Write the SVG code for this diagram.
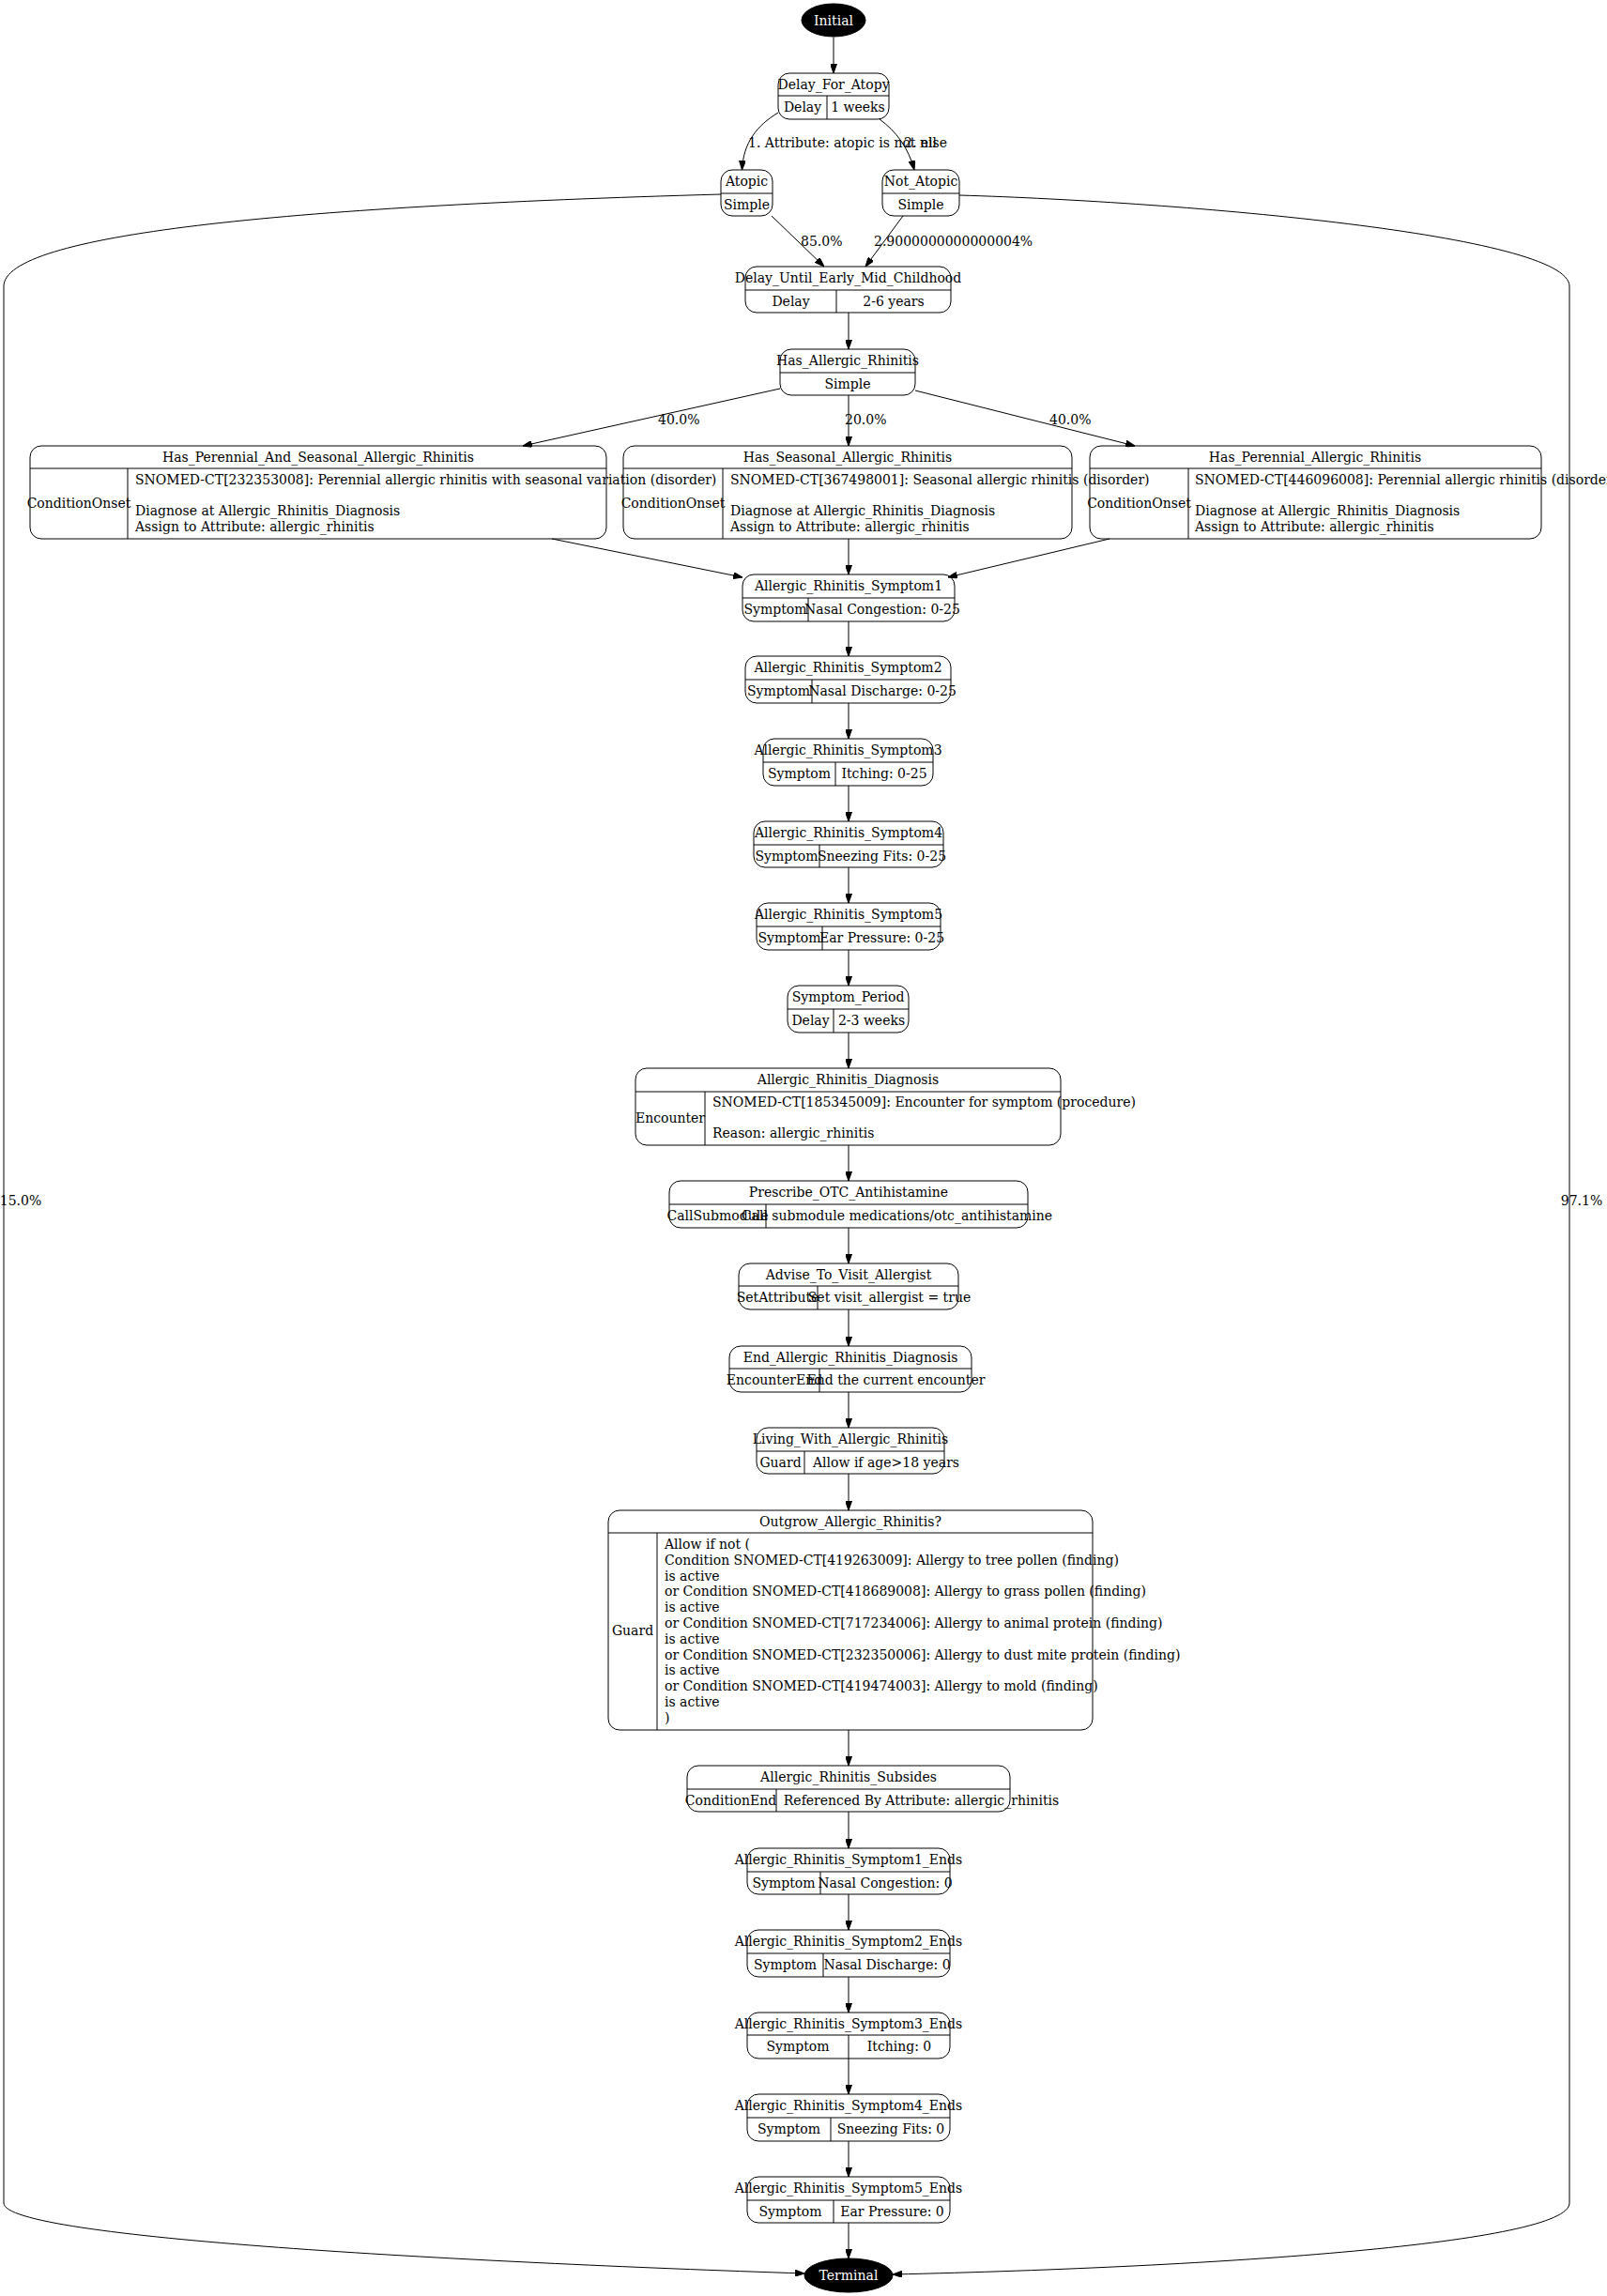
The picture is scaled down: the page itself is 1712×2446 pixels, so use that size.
<svg xmlns="http://www.w3.org/2000/svg" width="1712" height="2446" viewBox="0 0 1712 2446">
<defs>
<marker id="arr" markerUnits="userSpaceOnUse" markerWidth="10" markerHeight="7" refX="10" refY="3.5" orient="auto">
<path d="M0,0 L10,3.5 L0,7 z" fill="#000" stroke="#000" stroke-width="1"/>
</marker>
</defs>
<style>
text{font-family:"DejaVu Serif","Liberation Serif",serif;font-size:14px;fill:#000}
.m{text-anchor:middle}
.node rect,.node path{fill:none;stroke:#000;stroke-width:1}
.edges path{fill:none;stroke:#000;stroke-width:1;marker-end:url(#arr)}
.w{fill:#fff}
</style>
<rect x="0" y="0" width="1712" height="2446" fill="#fff"/>

<g id="edges" class="edges">
<path d="M888,39.5 L888,78"/>
<path d="M829,120 C806,134 792,152 790.5,181"/>
<path d="M937,127 C955,140 968,158 974,181"/>
<path d="M822,230 L878,284"/>
<path d="M962,230 L922,284"/>
<path d="M904,333 L904,372"/>
<path d="M831,414 L557,475"/>
<path d="M904,421 L904,475"/>
<path d="M975,416 L1209,475"/>
<path d="M588,574 L791,615"/>
<path d="M904,574 L904,612"/>
<path d="M1182,574 L1010,615"/>
<path d="M904,662 L904,699"/>
<path d="M904,749 L904,787"/>
<path d="M904,837 L904,875"/>
<path d="M904,924 L904,962"/>
<path d="M904,1012 L904,1050"/>
<path d="M904,1100 L904,1138"/>
<path d="M904,1220 L904,1258"/>
<path d="M904,1308 L904,1346"/>
<path d="M904,1395 L904,1434"/>
<path d="M904,1483 L904,1521"/>
<path d="M904,1570 L904,1609"/>
<path d="M904,1843 L904,1881"/>
<path d="M904,1930 L904,1969"/>
<path d="M904,2018 L904,2056"/>
<path d="M904,2106 L904,2144"/>
<path d="M904,2193 L904,2231"/>
<path d="M904,2281 L904,2319"/>
<path d="M904,2368 L904,2406"/>
<path d="M768,207 C300,220 4,250 4,305 L4,2347 C4,2385 500,2410 857,2422"/>
<path d="M1022,208 C1260,215 1672,250 1672,305 L1672,2347 C1672,2390 1300,2415 951,2423"/>
<text x="797" y="157">1. Attribute: atopic is not nil</text>
<text x="963" y="157">2. else</text>
<text x="853" y="262">85.0%</text>
<text x="931" y="262">2.9000000000000004%</text>
<text x="701" y="452">40.0%</text>
<text x="900" y="452">20.0%</text>
<text x="1118" y="452">40.0%</text>
<text x="22" y="1284" class="m">15.0%</text>
<text x="1685" y="1284" class="m">97.1%</text>
</g>

<g id="Initial">
<ellipse cx="888" cy="21.5" rx="34" ry="17.5" fill="#000" stroke="#000"/>
<text x="888" y="26.5" class="m w">Initial</text>
</g>

<g id="Delay_For_Atopy" class="node">
<rect x="829" y="78" width="118" height="49" rx="12"/>
<path d="M829,102 H947 M881,102 V127"/>
<text x="888" y="95" class="m">Delay_For_Atopy</text>
<text x="855" y="119" class="m">Delay</text>
<text x="914" y="119" class="m">1 weeks</text>
</g>

<g id="Atopic" class="node">
<rect x="768" y="181" width="55" height="49" rx="12"/>
<path d="M768,206 H823"/>
<text x="795.5" y="198" class="m">Atopic</text>
<text x="795.5" y="223" class="m">Simple</text>
</g>

<g id="Not_Atopic" class="node">
<rect x="940" y="181" width="82" height="49" rx="12"/>
<path d="M940,206 H1022"/>
<text x="981" y="198" class="m">Not_Atopic</text>
<text x="981" y="223" class="m">Simple</text>
</g>

<g id="Delay_Until_Early_Mid_Childhood" class="node">
<rect x="794" y="284" width="219" height="49" rx="12"/>
<path d="M794,309 H1013 M891,309 V333"/>
<text x="903.5" y="301" class="m">Delay_Until_Early_Mid_Childhood</text>
<text x="842.5" y="326" class="m">Delay</text>
<text x="952" y="326" class="m">2-6 years</text>
</g>

<g id="Has_Allergic_Rhinitis" class="node">
<rect x="831" y="372" width="144" height="49" rx="12"/>
<path d="M831,397 H975"/>
<text x="903" y="389" class="m">Has_Allergic_Rhinitis</text>
<text x="903" y="414" class="m">Simple</text>
</g>

<g id="Has_Perennial_And_Seasonal_Allergic_Rhinitis" class="node">
<rect x="32" y="475" width="614" height="99" rx="12"/>
<path d="M32,499 H646 M136,499 V574"/>
<text x="339" y="492" class="m">Has_Perennial_And_Seasonal_Allergic_Rhinitis</text>
<text x="84" y="541" class="m">ConditionOnset</text>
<text x="144" y="516">SNOMED-CT[232353008]: Perennial allergic rhinitis with seasonal variation (disorder)</text>
<text x="144" y="549">Diagnose at Allergic_Rhinitis_Diagnosis</text>
<text x="144" y="566">Assign to Attribute: allergic_rhinitis</text>
</g>

<g id="Has_Seasonal_Allergic_Rhinitis" class="node">
<rect x="664" y="475" width="478" height="99" rx="12"/>
<path d="M664,499 H1142 M770,499 V574"/>
<text x="903" y="492" class="m">Has_Seasonal_Allergic_Rhinitis</text>
<text x="717" y="541" class="m">ConditionOnset</text>
<text x="778" y="516">SNOMED-CT[367498001]: Seasonal allergic rhinitis (disorder)</text>
<text x="778" y="549">Diagnose at Allergic_Rhinitis_Diagnosis</text>
<text x="778" y="566">Assign to Attribute: allergic_rhinitis</text>
</g>

<g id="Has_Perennial_Allergic_Rhinitis" class="node">
<rect x="1161" y="475" width="481" height="99" rx="12"/>
<path d="M1161,499 H1642 M1266,499 V574"/>
<text x="1401" y="492" class="m">Has_Perennial_Allergic_Rhinitis</text>
<text x="1213.5" y="541" class="m">ConditionOnset</text>
<text x="1273" y="516">SNOMED-CT[446096008]: Perennial allergic rhinitis (disorder)</text>
<text x="1273" y="549">Diagnose at Allergic_Rhinitis_Diagnosis</text>
<text x="1273" y="566">Assign to Attribute: allergic_rhinitis</text>
</g>

<g id="Allergic_Rhinitis_Symptom1" class="node">
<rect x="791" y="612" width="226" height="50" rx="12"/>
<path d="M791,637 H1017 M861,637 V662"/>
<text x="904" y="629" class="m">Allergic_Rhinitis_Symptom1</text>
<text x="826" y="654" class="m">Symptom</text>
<text x="940" y="654" class="m">Nasal Congestion: 0-25</text>
</g>

<g id="Allergic_Rhinitis_Symptom2" class="node">
<rect x="794" y="699" width="219" height="50" rx="12"/>
<path d="M794,724 H1013 M865,724 V749"/>
<text x="903.5" y="716" class="m">Allergic_Rhinitis_Symptom2</text>
<text x="829.5" y="741" class="m">Symptom</text>
<text x="940" y="741" class="m">Nasal Discharge: 0-25</text>
</g>

<g id="Allergic_Rhinitis_Symptom3" class="node">
<rect x="813" y="787" width="181" height="50" rx="12"/>
<path d="M813,812 H994 M890,812 V837"/>
<text x="903.5" y="804" class="m">Allergic_Rhinitis_Symptom3</text>
<text x="851.5" y="829" class="m">Symptom</text>
<text x="942" y="829" class="m">Itching: 0-25</text>
</g>

<g id="Allergic_Rhinitis_Symptom4" class="node">
<rect x="803" y="875" width="202" height="49" rx="12"/>
<path d="M803,900 H1005 M873,900 V924"/>
<text x="904" y="892" class="m">Allergic_Rhinitis_Symptom4</text>
<text x="838" y="917" class="m">Symptom</text>
<text x="939.5" y="917" class="m">Sneezing Fits: 0-25</text>
</g>

<g id="Allergic_Rhinitis_Symptom5" class="node">
<rect x="806" y="962" width="196" height="50" rx="12"/>
<path d="M806,987 H1002 M876,987 V1012"/>
<text x="904" y="979" class="m">Allergic_Rhinitis_Symptom5</text>
<text x="841" y="1004" class="m">Symptom</text>
<text x="939.5" y="1004" class="m">Ear Pressure: 0-25</text>
</g>

<g id="Symptom_Period" class="node">
<rect x="839" y="1050" width="129" height="50" rx="12"/>
<path d="M839,1075 H968 M888,1075 V1100"/>
<text x="903.5" y="1067" class="m">Symptom_Period</text>
<text x="863.5" y="1092" class="m">Delay</text>
<text x="928.5" y="1092" class="m">2-3 weeks</text>
</g>

<g id="Allergic_Rhinitis_Diagnosis" class="node">
<rect x="677" y="1138" width="453" height="82" rx="12"/>
<path d="M677,1163 H1130 M751,1163 V1220"/>
<text x="903.5" y="1155" class="m">Allergic_Rhinitis_Diagnosis</text>
<text x="714" y="1196" class="m">Encounter</text>
<text x="759" y="1179">SNOMED-CT[185345009]: Encounter for symptom (procedure)</text>
<text x="759" y="1212">Reason: allergic_rhinitis</text>
</g>

<g id="Prescribe_OTC_Antihistamine" class="node">
<rect x="713" y="1258" width="382" height="50" rx="12"/>
<path d="M713,1283 H1095 M816,1283 V1308"/>
<text x="904" y="1275" class="m">Prescribe_OTC_Antihistamine</text>
<text x="764.5" y="1300" class="m">CallSubmodule</text>
<text x="955.5" y="1300" class="m">Call submodule medications/otc_antihistamine</text>
</g>

<g id="Advise_To_Visit_Allergist" class="node">
<rect x="787" y="1346" width="234" height="49" rx="12"/>
<path d="M787,1370 H1021 M871,1370 V1395"/>
<text x="904" y="1363" class="m">Advise_To_Visit_Allergist</text>
<text x="828.5" y="1387" class="m">SetAttribute</text>
<text x="947.5" y="1387" class="m">Set visit_allergist = true</text>
</g>

<g id="End_Allergic_Rhinitis_Diagnosis" class="node">
<rect x="777" y="1434" width="258" height="49" rx="12"/>
<path d="M777,1458 H1035 M873,1458 V1483"/>
<text x="906" y="1451" class="m">End_Allergic_Rhinitis_Diagnosis</text>
<text x="825" y="1475" class="m">EncounterEnd</text>
<text x="954.5" y="1475" class="m">End the current encounter</text>
</g>

<g id="Living_With_Allergic_Rhinitis" class="node">
<rect x="806" y="1521" width="200" height="49" rx="12"/>
<path d="M806,1546 H1006 M857,1546 V1570"/>
<text x="906" y="1538" class="m">Living_With_Allergic_Rhinitis</text>
<text x="831.5" y="1563" class="m">Guard</text>
<text x="944" y="1563" class="m">Allow if age&gt;18 years</text>
</g>

<g id="Outgrow_Allergic_Rhinitis" class="node">
<rect x="648" y="1609" width="516" height="234" rx="12"/>
<path d="M648,1633 H1164 M700,1633 V1843"/>
<text x="906" y="1626" class="m">Outgrow_Allergic_Rhinitis?</text>
<text x="674" y="1742" class="m">Guard</text>
<text x="708" y="1650">Allow if not (</text>
<text x="708" y="1666.8">Condition SNOMED-CT[419263009]: Allergy to tree pollen (finding)</text>
<text x="708" y="1683.6">is active</text>
<text x="708" y="1700.4">or Condition SNOMED-CT[418689008]: Allergy to grass pollen (finding)</text>
<text x="708" y="1717.2">is active</text>
<text x="708" y="1734">or Condition SNOMED-CT[717234006]: Allergy to animal protein (finding)</text>
<text x="708" y="1750.8">is active</text>
<text x="708" y="1767.6">or Condition SNOMED-CT[232350006]: Allergy to dust mite protein (finding)</text>
<text x="708" y="1784.4">is active</text>
<text x="708" y="1801.2">or Condition SNOMED-CT[419474003]: Allergy to mold (finding)</text>
<text x="708" y="1818">is active</text>
<text x="708" y="1834.8">)</text>
</g>

<g id="Allergic_Rhinitis_Subsides" class="node">
<rect x="732" y="1881" width="344" height="49" rx="12"/>
<path d="M732,1906 H1076 M827,1906 V1930"/>
<text x="904" y="1898" class="m">Allergic_Rhinitis_Subsides</text>
<text x="778.5" y="1923" class="m">ConditionEnd</text>
<text x="981.5" y="1923" class="m">Referenced By Attribute: allergic_rhinitis</text>
</g>

<g id="Allergic_Rhinitis_Symptom1_Ends" class="node">
<rect x="796" y="1969" width="216" height="49" rx="12"/>
<path d="M796,1994 H1012 M874,1994 V2018"/>
<text x="904" y="1986" class="m">Allergic_Rhinitis_Symptom1_Ends</text>
<text x="835" y="2011" class="m">Symptom</text>
<text x="943" y="2011" class="m">Nasal Congestion: 0</text>
</g>

<g id="Allergic_Rhinitis_Symptom2_Ends" class="node">
<rect x="796" y="2056" width="216" height="50" rx="12"/>
<path d="M796,2081 H1012 M877,2081 V2106"/>
<text x="904" y="2073" class="m">Allergic_Rhinitis_Symptom2_Ends</text>
<text x="836.5" y="2098" class="m">Symptom</text>
<text x="945" y="2098" class="m">Nasal Discharge: 0</text>
</g>

<g id="Allergic_Rhinitis_Symptom3_Ends" class="node">
<rect x="796" y="2144" width="216" height="49" rx="12"/>
<path d="M796,2168 H1012 M904,2168 V2193"/>
<text x="904" y="2161" class="m">Allergic_Rhinitis_Symptom3_Ends</text>
<text x="850" y="2185" class="m">Symptom</text>
<text x="958" y="2185" class="m">Itching: 0</text>
</g>

<g id="Allergic_Rhinitis_Symptom4_Ends" class="node">
<rect x="796" y="2231" width="216" height="50" rx="12"/>
<path d="M796,2256 H1012 M885,2256 V2281"/>
<text x="904" y="2248" class="m">Allergic_Rhinitis_Symptom4_Ends</text>
<text x="840.5" y="2273" class="m">Symptom</text>
<text x="949" y="2273" class="m">Sneezing Fits: 0</text>
</g>

<g id="Allergic_Rhinitis_Symptom5_Ends" class="node">
<rect x="796" y="2319" width="216" height="49" rx="12"/>
<path d="M796,2344 H1012 M888,2344 V2368"/>
<text x="904" y="2336" class="m">Allergic_Rhinitis_Symptom5_Ends</text>
<text x="842" y="2361" class="m">Symptom</text>
<text x="950.5" y="2361" class="m">Ear Pressure: 0</text>
</g>

<g id="Terminal">
<ellipse cx="904" cy="2424" rx="47" ry="18" fill="#000" stroke="#000"/>
<text x="904" y="2429" class="m w">Terminal</text>
</g>
</svg>
